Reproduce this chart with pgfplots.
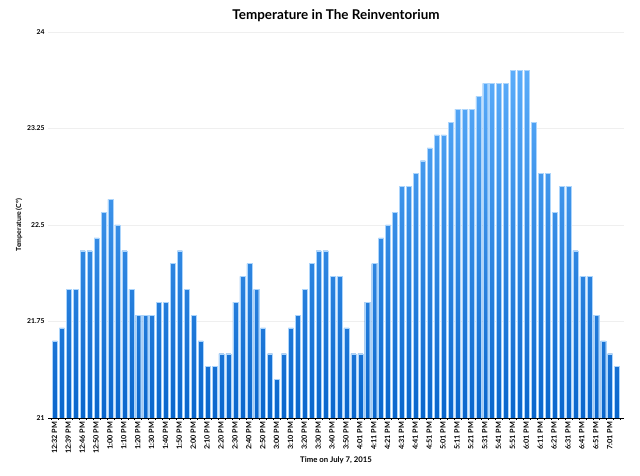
\documentclass[border=0pt]{standalone}
\usepackage{pgfplots}
\pgfplotsset{compat=1.18}
\usepackage{pgfplotstable}
\usepackage{fontspec}
\setmainfont{Lato}

\pgfplotstableread{
i t
0 21.6
1 21.7
2 22.0
3 22.0
4 22.3
5 22.3
6 22.4
7 22.6
8 22.7
9 22.5
10 22.3
11 22.0
12 21.8
13 21.8
14 21.8
15 21.9
16 21.9
17 22.2
18 22.3
19 22.0
20 21.8
21 21.6
22 21.4
23 21.4
24 21.5
25 21.5
26 21.9
27 22.1
28 22.2
29 22.0
30 21.7
31 21.5
32 21.3
33 21.5
34 21.7
35 21.8
36 22.0
37 22.2
38 22.3
39 22.3
40 22.1
41 22.1
42 21.7
43 21.5
44 21.5
45 21.9
46 22.2
47 22.4
48 22.5
49 22.6
50 22.8
51 22.8
52 22.9
53 23.0
54 23.1
55 23.2
56 23.2
57 23.3
58 23.4
59 23.4
60 23.4
61 23.5
62 23.6
63 23.6
64 23.6
65 23.6
66 23.7
67 23.7
68 23.7
69 23.3
70 22.9
71 22.9
72 22.6
73 22.8
74 22.8
75 22.3
76 22.1
77 22.1
78 21.8
79 21.6
80 21.5
81 21.4
}\temps

\definecolor{bartop}{HTML}{5AACFA}
\definecolor{barbot}{HTML}{0A66CC}
\definecolor{gridc}{HTML}{EFEFEF}

\begin{document}
\begin{tikzpicture}[x=1bp,y=1bp]
\path (0,0) rectangle (640,476);
\begin{axis}[
  at={(48bp,58bp)}, anchor=south west,
  scale only axis, width=576bp, height=386bp,
  xmin=-1, xmax=82, ymin=0, ymax=3,
  ytick={0,0.75,1.5,2.25,3},
  yticklabels={21,21.75,22.5,23.25,24},
  xtick={0,2,...,80},
  minor xtick={-0.5,0.5,...,81.5},
  xticklabels={12:32 PM,12:39 PM,12:46 PM,12:50 PM,1:00 PM,1:10 PM,1:20 PM,1:30 PM,1:40 PM,1:50 PM,2:00 PM,2:10 PM,2:20 PM,2:30 PM,2:40 PM,2:50 PM,3:00 PM,3:10 PM,3:20 PM,3:30 PM,3:40 PM,3:50 PM,4:01 PM,4:11 PM,4:21 PM,4:31 PM,4:41 PM,4:51 PM,5:01 PM,5:11 PM,5:21 PM,5:31 PM,5:41 PM,5:51 PM,6:01 PM,6:11 PM,6:21 PM,6:31 PM,6:41 PM,6:51 PM,7:01 PM},
  /pgf/number format/assume math mode=true,
  x tick label style={rotate=90, anchor=east, font=\bfseries\fontsize{7.3}{8}\selectfont, inner sep=1.5bp, yshift=0.5bp},
  y tick label style={font=\bfseries\fontsize{6.8}{7}\selectfont, xshift=2bp},
  axis x line*=bottom,
  axis y line*=left,
  y axis line style={draw=none},
  x axis line style={black, line width=0.8bp},
  ytick style={draw=none},
  xtick style={black, line width=0.5bp},
  major x tick style={draw=none},
  tick align=outside,
  major tick length=2bp,
  minor tick length=2bp,
  ymajorgrids,
  grid style={gridc, line width=0.8bp},
  title={Temperature in The Reinventorium},
  title style={font=\bfseries\fontsize{13.5}{15}\selectfont, yshift=1bp},
  xlabel={Time on July 7, 2015},
  xlabel style={font=\bfseries\fontsize{7.8}{9}\selectfont, yshift=2bp},
  ylabel={Temperature (C°)},
  ylabel style={font=\bfseries\fontsize{7}{8}\selectfont, yshift=-2bp},
]
\addplot[ybar, bar width=5bp, top color=bartop, bottom color=barbot,
  draw=white!50!bartop, line width=0.3bp]
  table[x=i, y expr=\thisrow{t}-21] {\temps};
\end{axis}
\end{tikzpicture}
\end{document}
